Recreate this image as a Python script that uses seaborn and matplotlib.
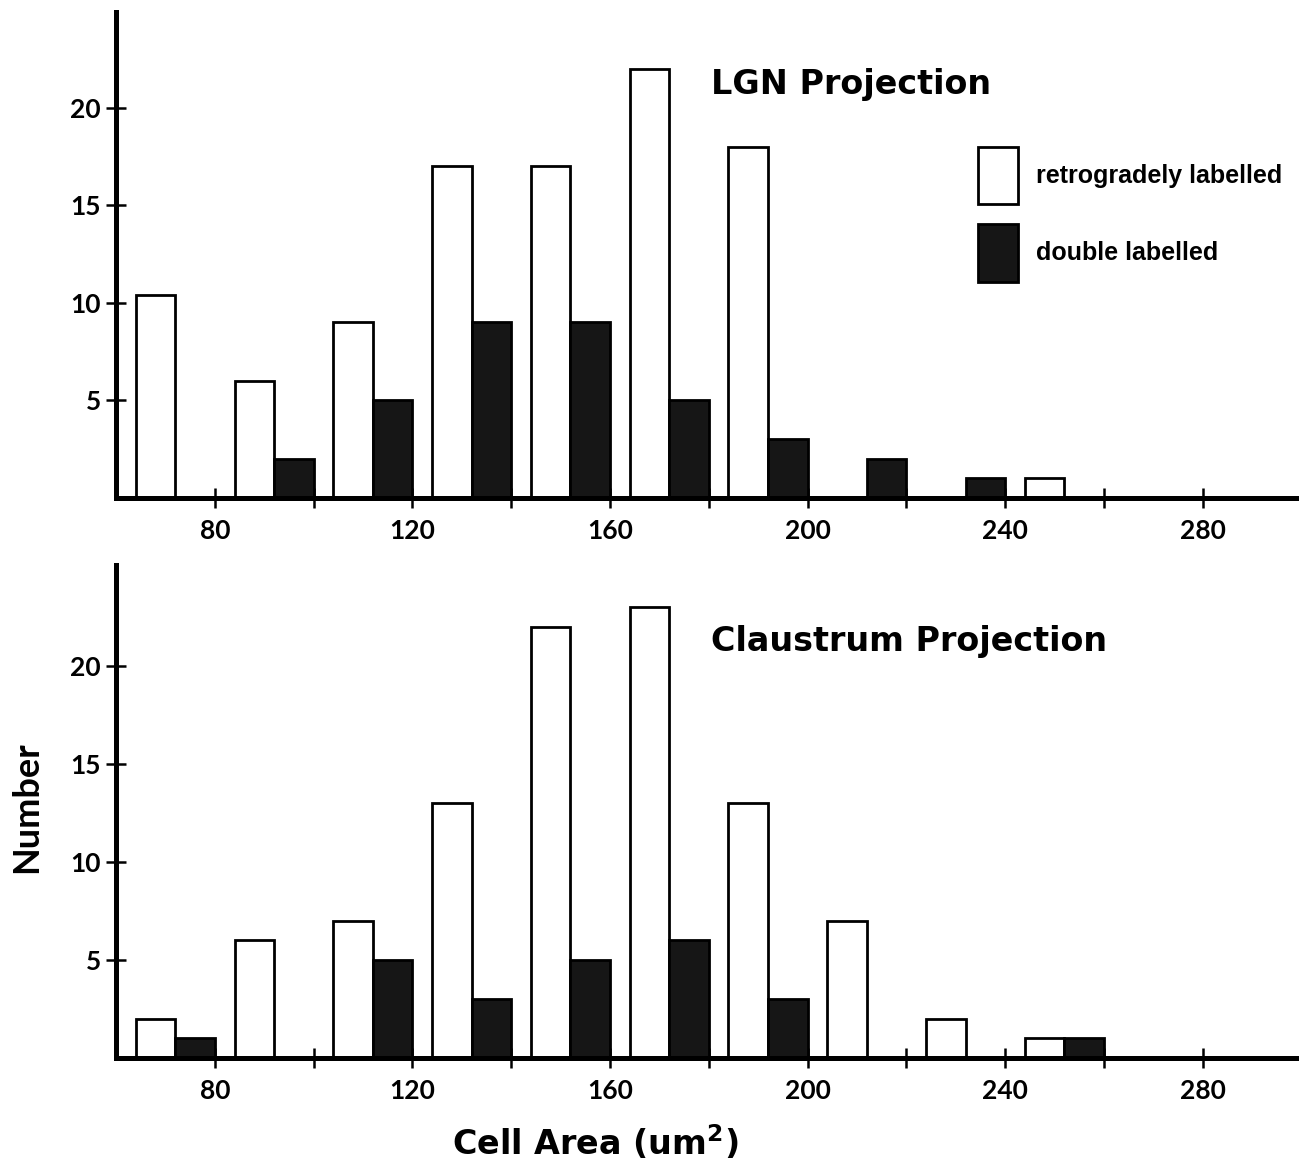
import matplotlib
matplotlib.use("Agg")
import matplotlib.pyplot as plt
from matplotlib.patches import Patch
import pandas as pd
import seaborn as sns


# Data (counts per 20 um2 bin)
bin_pos = [72, 92, 112, 132, 152, 172, 192, 212, 232, 252]
label_types = ["retrogradely labelled", "double labelled"]

lgn_retro = [10.4, 6, 9, 17, 17, 22, 18, 0, 0, 1]
lgn_double = [0, 2, 5, 9, 9, 5, 3, 2, 1, 0]

cla_retro = [2, 6, 7, 13, 22, 23, 13, 7, 2, 1]
cla_double = [1, 0, 5, 3, 5, 6, 3, 0, 0, 1]

x_major = [80, 120, 160, 200, 240, 280]
x_minor = [100, 140, 180, 220, 260]
y_ticks = [5, 10, 15, 20]


def make_df(retro, double):
    return pd.DataFrame({
        "area": bin_pos * 2,
        "count": retro + double,
        "type": [label_types[0]] * len(retro) + [label_types[1]] * len(double),
    })


sns.set_style("ticks")
plt.rcParams["font.family"] = ["Lato", "DejaVu Sans"]
plt.rcParams["font.weight"] = "bold"
plt.rcParams["mathtext.default"] = "bf"
for key in ["text.color", "axes.labelcolor", "xtick.color", "ytick.color", "axes.edgecolor"]:
    plt.rcParams[key] = "black"

palette = {label_types[0]: "white", label_types[1]: "#161616"}

fig = plt.figure(figsize=(12.99, 11.72), dpi=100)
W, H = 1299, 1172
ax_top = fig.add_axes([116 / W, 1 - 498 / H, 1183 / W, 486 / H])
ax_bot = fig.add_axes([116 / W, 1 - 1058 / H, 1183 / W, 493 / H])

panels = [
    (ax_top, make_df(lgn_retro, lgn_double), "LGN Projection", 24.9, 0.832),
    (ax_bot, make_df(cla_retro, cla_double), "Claustrum Projection", 25.15, 0.826),
]

for ax, df, title, ytop, ty in panels:
    sns.barplot(
        data=df, x="area", y="count", hue="type",
        hue_order=label_types, palette=palette,
        native_scale=True, width=0.8, errorbar=None,
        edgecolor="black", linewidth=2, legend=False, ax=ax,
    )
    ax.set_xlim(60, 299.5)
    ax.set_ylim(0, ytop)
    ax.set_xticks(x_major)
    ax.set_xticks(x_minor, minor=True)
    ax.set_yticks(y_ticks)
    ax.set_xlabel("")
    ax.set_ylabel("")
    sns.despine(ax=ax)
    for side in ["left", "bottom"]:
        ax.spines[side].set_linewidth(3.6)
        ax.spines[side].set_color("black")
    ax.tick_params(axis="both", which="both", direction="inout",
                   length=14, width=1.8, labelsize=19, colors="black")
    ax.tick_params(axis="x", which="both", pad=8)
    ax.tick_params(axis="y", pad=4)

    ax.text(0.503, ty, title, transform=ax.transAxes,
            family="DejaVu Sans", weight="bold", fontsize=24,
            ha="left", va="baseline")

handles = [
    Patch(facecolor="white", edgecolor="black", linewidth=2, label=label_types[0]),
    Patch(facecolor="#161616", edgecolor="black", linewidth=2, label=label_types[1]),
]
ax_top.legend(
    handles=handles, loc="upper left",
    bbox_to_anchor=((978 - 116) / 1183, (498 - 147) / 486),
    frameon=False, borderpad=0, borderaxespad=0,
    handlelength=1.6, handleheight=3.15, labelspacing=0.8, handletextpad=0.7,
    prop={"family": "Liberation Sans", "weight": "bold", "size": 18},
)

fig.text(27 / W, 1 - 807 / H, "Number", rotation=90, ha="center", va="center",
         family="Lato", weight="bold", fontsize=26)
fig.text(595 / W, 1 - 1143 / H, r"Cell Area (um$^{2}$)", ha="center", va="center",
         family="DejaVu Sans", weight="bold", fontsize=24)

fig.savefig("out.png", dpi=100)
